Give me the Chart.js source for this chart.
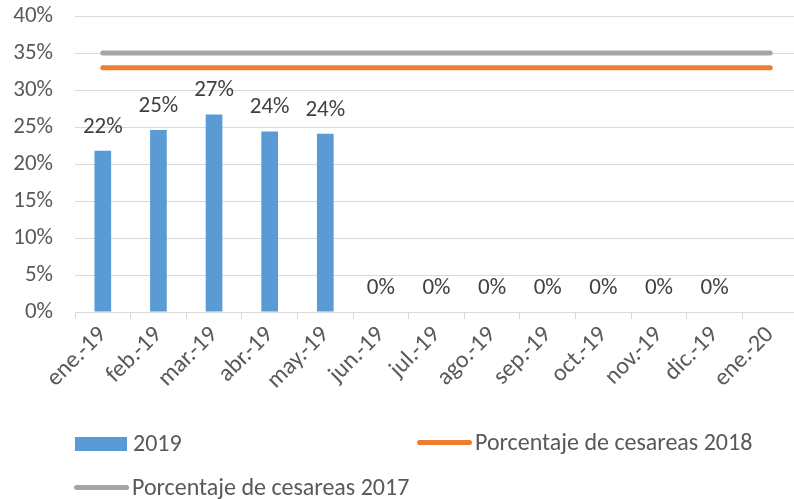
<!DOCTYPE html>
<html>
<head>
  <meta charset="UTF-8" />
  <title>Porcentaje de cesareas</title>
  <script src="https://cdn.jsdelivr.net/npm/chart.js"></script>
  <style>
    html, body { margin: 0; padding: 0; background: #fff; overflow: hidden; }
    #wrap { position: relative; width: 798px; height: 499px; }
    .leg { position: absolute; font-family: Carlito, Lato, sans-serif; font-size: 24px; color: #595959; line-height: 24px; white-space: nowrap; }
    .sw { position: absolute; }
  </style>
</head>
<body>
  <div id="wrap">
    <canvas id="cesareasChart" width="798" height="499"></canvas>
    <div id="legend"></div>
  </div>

  <script>
    const categories = ['ene.-19', 'feb.-19', 'mar.-19', 'abr.-19', 'may.-19', 'jun.-19', 'jul.-19',
                        'ago.-19', 'sep.-19', 'oct.-19', 'nov.-19', 'dic.-19', 'ene.-20'];
    const valores2019 = [21.8, 24.6, 26.7, 24.4, 24.1, 0, 0, 0, 0, 0, 0, 0, null];
    const cesareas2018 = [33, 33, 33, 33, 33, 33, 33, 33, 33, 33, 33, 33, 33];
    const cesareas2017 = [35, 35, 35, 35, 35, 35, 35, 35, 35, 35, 35, 35, 35];
    const yMin = 0, yMax = 40, yStep = 5;

    const FONT = 'Carlito, Lato, sans-serif';

    // value labels above the bars
    const barLabels = {
      id: 'barLabels',
      afterDatasetsDraw(chart) {
        const ctx = chart.ctx;
        const meta = chart.getDatasetMeta(0);
        ctx.save();
        ctx.font = '23px ' + FONT;
        ctx.fillStyle = '#404040';
        ctx.textAlign = 'center';
        ctx.textBaseline = 'alphabetic';
        meta.data.forEach((bar, i) => {
          const v = valores2019[i];
          if (v === null) return;
          ctx.fillText(Math.round(v) + '%', bar.x, bar.y - 18);
        });
        ctx.restore();
      }
    };

    const ctx = document.getElementById('cesareasChart').getContext('2d');
    const chart = new Chart(ctx, {
      type: 'bar',
      data: {
        labels: categories,
        datasets: [
          {
            label: '2019',
            data: valores2019,
            backgroundColor: '#5B9BD5',
            barPercentage: 0.3,
            categoryPercentage: 1,
            order: 3,
          },
          {
            type: 'line',
            label: 'Porcentaje de cesareas 2018',
            data: cesareas2018,
            borderColor: '#ED7D31',
            borderWidth: 5,
            borderCapStyle: 'round',
            pointRadius: 0,
            fill: false,
            order: 2,
          },
          {
            type: 'line',
            label: 'Porcentaje de cesareas 2017',
            data: cesareas2017,
            borderColor: '#A5A5A5',
            borderWidth: 5,
            borderCapStyle: 'round',
            pointRadius: 0,
            fill: false,
            order: 1,
          },
        ]
      },
      options: {
        responsive: false,
        animation: false,
        layout: { padding: { top: 16, left: 0, right: 0, bottom: 0 } },
        plugins: {
          legend: { display: false },
          tooltip: { enabled: false },
        },
        scales: {
          x: {
            offset: true,
            grid: { display: true, drawOnChartArea: false, drawTicks: true, tickLength: 7, color: '#d9d9d9', offset: true },
            border: { display: true, color: '#d9d9d9' },
            ticks: { color: '#595959', font: { family: FONT, size: 24 }, minRotation: 45, maxRotation: 45, padding: 2, autoSkip: false },
            afterFit(s) { s.height = 187; s.paddingLeft = 0; s.paddingRight = 0; },
          },
          y: {
            min: yMin,
            max: yMax,
            ticks: { stepSize: yStep, color: '#595959', font: { family: FONT, size: 23 }, padding: 22, callback: v => v + '%' },
            grid: { color: '#d9d9d9', drawTicks: false },
            border: { display: false },
            afterFit(s) { s.width = 75; s.paddingTop = 0; s.paddingBottom = 0; },
          }
        }
      },
      plugins: [barLabels]
    });

    // legend laid out like the original (three items, two rows)
    const legendItems = [
      { text: chart.data.datasets[0].label, kind: 'box', color: '#5B9BD5', x: 75, y: 444 },
      { text: chart.data.datasets[1].label, kind: 'line', color: '#ED7D31', x: 417, y: 443 },
      { text: chart.data.datasets[2].label, kind: 'line', color: '#A5A5A5', x: 74, y: 488 },
    ];
    const legend = document.getElementById('legend');
    legendItems.forEach(it => {
      const sw = document.createElement('div');
      sw.className = 'sw';
      if (it.kind === 'box') {
        Object.assign(sw.style, { left: it.x + 'px', top: (it.y - 7) + 'px', width: '52px', height: '14px', background: it.color });
      } else {
        Object.assign(sw.style, { left: it.x + 'px', top: (it.y - 3) + 'px', width: '55px', height: '5px', background: it.color, borderRadius: '3px' });
      }
      legend.appendChild(sw);
      const t = document.createElement('div');
      t.className = 'leg';
      t.textContent = it.text;
      Object.assign(t.style, { left: (it.x + 58) + 'px', top: (it.y - 13) + 'px' });
      legend.appendChild(t);
    });
  </script>
</body>
</html>
